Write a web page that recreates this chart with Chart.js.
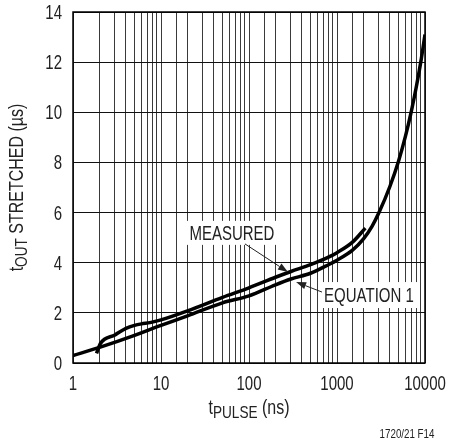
<!DOCTYPE html>
<html>
<head>
<meta charset="utf-8">
<script src="https://cdn.jsdelivr.net/npm/chart.js@4"></script>
<style>
html, body { margin: 0; padding: 0; background: #fff; }
canvas { display: block; }
</style>
</head>
<body>
<canvas id="chart" width="449" height="445"></canvas>
<script>
// t_PULSE (ns) vs t_OUT stretched (us)
var eqPulse = [1, 2, 5, 10, 20, 50, 100, 200, 300, 500, 800, 1000, 1500, 2000, 2500, 3000, 4000, 5000, 6000, 7000, 8000, 9000, 10000];
var eqOut = [0.30, 0.62, 1.10, 1.50, 1.88, 2.40, 2.68, 3.12, 3.35, 3.58, 3.92, 4.10, 4.50, 4.95, 5.45, 6.00, 7.05, 8.05, 9.05, 10.05, 11.05, 12.05, 13.1];

var measPulse = [1.85, 2.05, 3, 4, 5, 6, 7.5, 10, 20, 50, 100, 200, 300, 500, 800, 1000, 1500, 2100];
var measOut = [0.38, 0.78, 1.12, 1.38, 1.50, 1.56, 1.61, 1.72, 2.08, 2.62, 3.00, 3.42, 3.65, 3.92, 4.22, 4.40, 4.82, 5.38];

var yMin = 0, yMax = 14, yStep = 2;
var xMin = 1, xMax = 10000;

// condensed look: Liberation Sans squeezed horizontally
var FONT = '"Liberation Sans", Arial, sans-serif';
var SQUEEZE = 0.75;
var INK = '#222';

function pts(xs, ys) {
    return xs.map(function (x, i) { return { x: x, y: ys[i] }; });
}

function text(ctx, str, x, y, size, align, base, sq) {
    ctx.save();
    ctx.translate(x, y);
    ctx.scale(sq || SQUEEZE, 1);
    ctx.font = size + 'px ' + FONT;
    ctx.fillStyle = INK;
    ctx.textAlign = align;
    ctx.textBaseline = base;
    ctx.fillText(str, 0, 0);
    ctx.restore();
}

function textWidth(ctx, str, size, sq) {
    ctx.save();
    ctx.font = size + 'px ' + FONT;
    var w = ctx.measureText(str).width * (sq || SQUEEZE);
    ctx.restore();
    return w;
}

function subTitle(ctx, cx, cy, angle, main, sub, rest) {
    var sq = 0.8;
    var w1 = textWidth(ctx, main, 20, sq), w2 = textWidth(ctx, sub, 17, sq), w3 = textWidth(ctx, rest, 20, sq);
    ctx.save();
    ctx.translate(cx, cy);
    ctx.rotate(angle);
    var x = -(w1 + w2 + w3) / 2;
    text(ctx, main, x, 7, 20, 'left', 'alphabetic', sq);
    text(ctx, sub, x + w1, 11, 17, 'left', 'alphabetic', sq);
    text(ctx, rest, x + w1 + w2, 7, 20, 'left', 'alphabetic', sq);
    ctx.restore();
}

function arrow(ctx, x1, y1, x2, y2) {
    var a = Math.atan2(y2 - y1, x2 - x1), len = 10, half = 3.5;
    ctx.save();
    ctx.strokeStyle = INK;
    ctx.fillStyle = INK;
    ctx.lineWidth = 1;
    ctx.beginPath();
    ctx.moveTo(x1, y1);
    ctx.lineTo(x2 - Math.cos(a) * len, y2 - Math.sin(a) * len);
    ctx.stroke();
    ctx.beginPath();
    ctx.moveTo(x2, y2);
    ctx.lineTo(x2 - Math.cos(a) * len - Math.sin(a) * half, y2 - Math.sin(a) * len + Math.cos(a) * half);
    ctx.lineTo(x2 - Math.cos(a) * len + Math.sin(a) * half, y2 - Math.sin(a) * len - Math.cos(a) * half);
    ctx.closePath();
    ctx.fill();
    ctx.restore();
}

function boxLabel(ctx, str, cx, cy, padX, padY) {
    var w = textWidth(ctx, str, 20);
    ctx.save();
    ctx.fillStyle = '#fff';
    ctx.fillRect(cx - w / 2 - padX, cy - 8 - padY, w + 2 * padX, 16 + 2 * padY);
    ctx.restore();
    text(ctx, str, cx, cy + 7, 20, 'center', 'alphabetic');
}

var decor = {
    id: 'decor',
    beforeDatasetsDraw: function (chart) {
        var ctx = chart.ctx, xs = chart.scales.x, ys = chart.scales.y;
        boxLabel(ctx, 'MEASURED', xs.getPixelForValue(64), ys.getPixelForValue(5.19), 7, 4);
        boxLabel(ctx, 'EQUATION 1', xs.getPixelForValue(2308), ys.getPixelForValue(2.71), 5, 5);
    },
    afterDraw: function (chart) {
        var ctx = chart.ctx, xs = chart.scales.x, ys = chart.scales.y, a = chart.chartArea;
        arrow(ctx, xs.getPixelForValue(90), ys.getPixelForValue(4.75), xs.getPixelForValue(277), ys.getPixelForValue(3.63));
        arrow(ctx, xs.getPixelForValue(675), ys.getPixelForValue(2.83), xs.getPixelForValue(343), ys.getPixelForValue(3.23));

        ctx.save();
        ctx.strokeStyle = '#000';
        ctx.lineWidth = 1.5;
        ctx.strokeRect(a.left, a.top, a.right - a.left, a.bottom - a.top);
        ctx.restore();

        // tick labels
        ys.ticks.forEach(function (t) {
            text(ctx, String(t.value), a.left - 11, ys.getPixelForValue(t.value) + 7, 20, 'right', 'alphabetic');
        });
        xs.ticks.forEach(function (t) {
            var l = Math.log10(t.value);
            if (Math.abs(l - Math.round(l)) < 1e-9) {
                text(ctx, String(t.value), xs.getPixelForValue(t.value), a.bottom + 27, 20, 'center', 'alphabetic');
            }
        });

        subTitle(ctx, (a.left + a.right) / 2, 407, 0, 't', 'PULSE', ' (ns)');
        subTitle(ctx, 16, (a.top + a.bottom) / 2, -Math.PI / 2, 't', 'OUT', ' STRETCHED (\u00b5s)');

        text(ctx, '1720/21 F14', 407, 438, 13, 'center', 'alphabetic');
    }
};

new Chart(document.getElementById('chart').getContext('2d'), {
    type: 'scatter',
    data: {
        datasets: [{
            label: 'MEASURED',
            data: pts(measPulse, measOut),
            showLine: true,
            borderColor: '#000',
            borderWidth: 3.5,
            pointRadius: 0,
            cubicInterpolationMode: 'monotone'
        }, {
            label: 'EQUATION 1',
            data: pts(eqPulse, eqOut),
            showLine: true,
            borderColor: '#000',
            borderWidth: 3.5,
            pointRadius: 0,
            cubicInterpolationMode: 'monotone'
        }]
    },
    options: {
        responsive: false,
        animation: false,
        layout: { padding: { left: 0, right: 24, top: 12, bottom: 0 } },
        plugins: {
            legend: { display: false },
            tooltip: { enabled: false }
        },
        scales: {
            x: {
                type: 'logarithmic',
                min: xMin,
                max: xMax,
                afterFit: function (s) { s.height = 82; },
                grid: { color: '#3a3a3a', lineWidth: 1, drawTicks: false },
                border: { display: false },
                ticks: { display: false, autoSkip: false }
            },
            y: {
                min: yMin,
                max: yMax,
                afterFit: function (s) { s.width = 73; },
                grid: { color: '#111', lineWidth: 1, drawTicks: false },
                border: { display: false },
                ticks: { display: false, stepSize: yStep }
            }
        }
    },
    plugins: [decor]
});
</script>
</body>
</html>
